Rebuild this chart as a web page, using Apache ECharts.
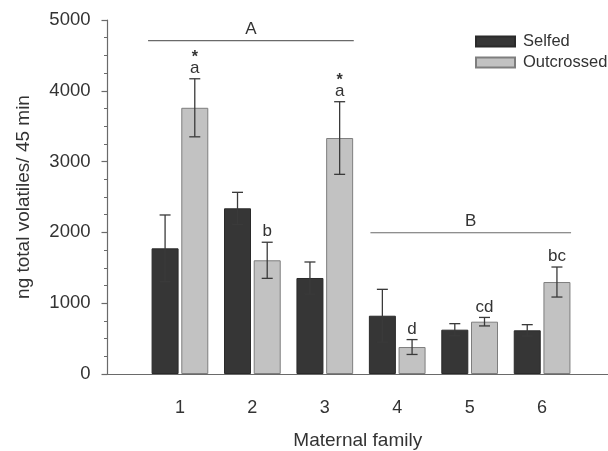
<!DOCTYPE html>
<html>
<head>
<meta charset="utf-8">
<script src="https://cdn.jsdelivr.net/npm/echarts@6/dist/echarts.min.js"></script>
<style>
html,body{margin:0;padding:0;background:#fff;}
#chart{width:608px;height:451px;}
</style>
</head>
<body>
<div id="chart"></div>
<script>
// ---- data ----
const categories = ['1', '2', '3', '4', '5', '6'];
const selfed = [1775, 2340, 1356, 823, 626, 617];
const selfedErr = [471, 226, 226, 373, 85, 80];
const outcrossed = [3760, 1606, 3333, 381, 739, 1299];
const outcrossedErr = [410, 255, 513, 105, 60, 212];
const outLetters = ['a', 'b', 'a', 'd', 'cd', 'bc'];
const outStars = ['*', '', '*', '', '', ''];
const groupLabels = ['A', 'B'];
const groupStart = [0.56, 3.63];
const groupEnd = [3.4, 6.4];
const groupLevel = [4710, 1995];
const yTicks = [0, 1000, 2000, 3000, 4000, 5000];

// ---- style ----
const FONT = 'Liberation Sans, Arial, Helvetica, sans-serif';
const TXT = '#333';
const AXIS = '#6a6a6a';
const BAR_W = 27;
const GAP = 2.7;
const OFF = (BAR_W + GAP) / 2;

const chart = echarts.init(document.getElementById('chart'), null, {renderer: 'canvas'});

function errRender(values, errs, sign, letters, stars) {
  return function (params, api) {
    const i = params.dataIndex;
    const x = api.value(0);
    const v = api.value(1);
    const e = api.value(2);
    const top = api.coord([x, v + e]);
    const bot = api.coord([x, v - e]);
    const px = top[0] + sign * OFF;
    const cap = 5.5;
    const st = {stroke: '#3a3a3a', lineWidth: 1.3};
    const children = [
      {type: 'line', shape: {x1: px, y1: top[1], x2: px, y2: bot[1]}, style: st},
      {type: 'line', shape: {x1: px - cap, y1: top[1], x2: px + cap, y2: top[1]}, style: st},
      {type: 'line', shape: {x1: px - cap, y1: bot[1], x2: px + cap, y2: bot[1]}, style: st}
    ];
    if (letters && letters[i]) {
      children.push({type: 'text', style: {x: px, y: top[1] - 2, text: letters[i], align: 'center', verticalAlign: 'bottom', fill: TXT, font: '17px ' + FONT}});
    }
    if (stars && stars[i]) {
      children.push({type: 'text', style: {x: px, y: top[1] - 13, text: stars[i], align: 'center', verticalAlign: 'bottom', fill: TXT, font: 'bold 16px ' + FONT}});
    }
    return {type: 'group', children: children};
  };
}

const option = {
  backgroundColor: '#fff',
  animation: false,
  textStyle: {fontFamily: FONT, color: TXT},
  grid: {left: 107.5, right: 0, top: 20, bottom: 77, containLabel: false, outerBoundsMode: 'none'},
  legend: {
    data: ['Selfed', 'Outcrossed'],
    orient: 'vertical',
    left: 475,
    top: 33,
    icon: 'rect',
    itemWidth: 39,
    itemHeight: 10,
    itemGap: 4,
    padding: 0,
    textStyle: {fontSize: 16.5, color: TXT, fontFamily: FONT, padding: [0, 0, 0, 3]}
  },
  xAxis: {
    type: 'value',
    min: 0,
    max: 6.91,
    interval: 1,
    name: 'Maternal family',
    nameLocation: 'middle',
    nameGap: 57,
    nameTextStyle: {fontSize: 19, color: TXT, fontFamily: FONT},
    axisLine: {show: true, onZero: false, lineStyle: {color: AXIS, width: 1.2}},
    axisTick: {show: false},
    splitLine: {show: false},
    axisLabel: {
      fontSize: 18, color: TXT, fontFamily: FONT, margin: 25,
      formatter: function (v) {
        const k = Math.round(v);
        return (Math.abs(v - k) < 1e-6 && k >= 1 && k <= categories.length) ? categories[k - 1] : '';
      }
    }
  },
  yAxis: {
    type: 'value',
    min: yTicks[0],
    max: yTicks[yTicks.length - 1],
    interval: 1000,
    name: 'ng total volatiles/ 45 min',
    nameLocation: 'middle',
    nameGap: 74,
    nameTextStyle: {fontSize: 19, color: TXT, fontFamily: FONT},
    axisLine: {show: true, lineStyle: {color: AXIS, width: 1.2}},
    axisTick: {show: true, length: 6, lineStyle: {color: AXIS, width: 1.2}},
    minorTick: {show: true, splitNumber: 4, length: 3.5, lineStyle: {color: AXIS, width: 1}},
    splitLine: {show: false},
    axisLabel: {fontSize: 18.5, color: TXT, fontFamily: FONT, margin: 17, formatter: function (v) { return String(v); }}
  },
  series: [
    {
      name: 'Selfed',
      type: 'bar',
      barWidth: BAR_W,
      barGap: '10%',
      data: selfed.map((v, i) => [i + 1, v]),
      itemStyle: {color: '#363636', borderColor: '#2a2a2a', borderWidth: 1}
    },
    {
      name: 'Outcrossed',
      type: 'bar',
      barWidth: BAR_W,
      barGap: '10%',
      data: outcrossed.map((v, i) => [i + 1, v]),
      itemStyle: {color: '#c2c2c2', borderColor: '#7e7e7e', borderWidth: 1}
    },
    {
      type: 'custom',
      z: 5,
      silent: true,
      data: selfed.map((v, i) => [i + 1, v, selfedErr[i]]),
      encode: {x: 0, y: 1},
      renderItem: errRender(selfed, selfedErr, -1, null, null)
    },
    {
      type: 'custom',
      z: 5,
      silent: true,
      data: outcrossed.map((v, i) => [i + 1, v, outcrossedErr[i]]),
      encode: {x: 0, y: 1},
      renderItem: errRender(outcrossed, outcrossedErr, 1, outLetters, outStars)
    },
    {
      type: 'custom',
      z: 5,
      silent: true,
      data: groupLabels.map((g, i) => [groupStart[i], groupLevel[i], groupEnd[i]]),
      encode: {x: 0, y: 1},
      renderItem: function (params, api) {
        const i = params.dataIndex;
        const a = api.coord([api.value(0), api.value(1)]);
        const b = api.coord([api.value(2), api.value(1)]);
        return {type: 'group', children: [
          {type: 'line', shape: {x1: a[0], y1: a[1], x2: b[0], y2: b[1]}, style: {stroke: '#6a6a6a', lineWidth: 1.2}},
          {type: 'text', style: {x: (a[0] + b[0]) / 2, y: a[1] - 3, text: groupLabels[i], align: 'center', verticalAlign: 'bottom', fill: TXT, font: '17px ' + FONT}}
        ]};
      }
    }
  ]
};
chart.setOption(option);
</script>
</body>
</html>
